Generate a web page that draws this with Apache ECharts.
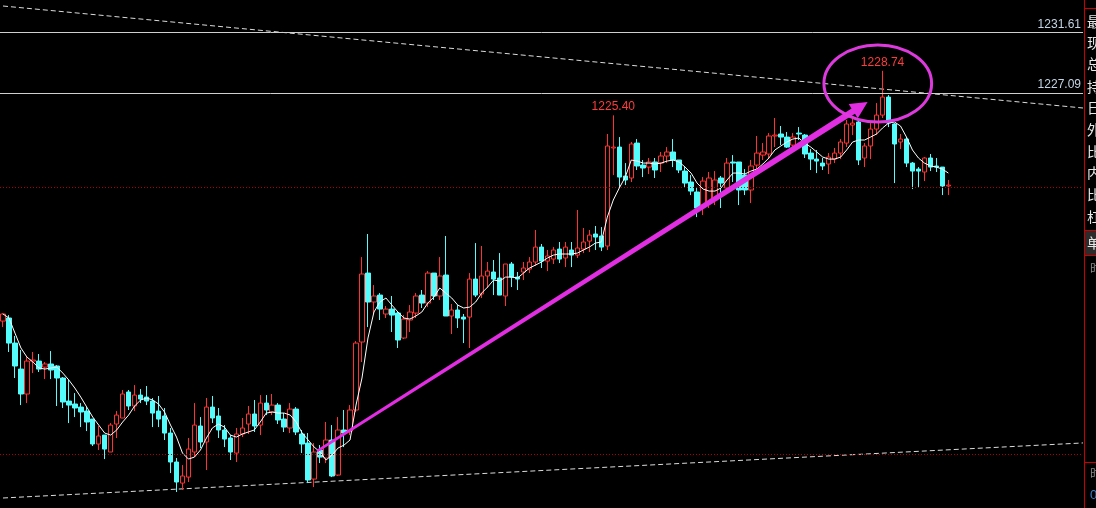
<!DOCTYPE html>
<html>
<head>
<meta charset="utf-8">
<script src="https://cdn.jsdelivr.net/npm/echarts@6/dist/echarts.min.js"></script>
<style>
html,body{margin:0;padding:0;background:#000;}
#main{width:1096px;height:508px;}
</style>
</head>
<body>
<div id="main"></div>
<script>
// ---- data (price units) ----
const opens = [
1209.97,1210.20,1208.32,1206.37,1204.50,1206.97,1206.97,1206.52,1206.75,1206.60,
1205.70,1203.97,1203.75,1203.52,1203.22,1202.62,1200.75,1201.42,1200.15,1202.25,
1202.70,1204.65,1203.60,1204.42,1204.27,1203.97,1203.22,1202.85,1201.57,1199.40,
1197.82,1198.27,1200.15,1202.10,1200.90,1203.52,1202.85,1201.80,1201.20,1200.07,
1201.50,1202.25,1203.00,1202.17,1203.82,1203.15,1203.67,1202.62,1201.95,1203.37,
1201.50,1200.82,1198.12,1200.30,1199.70,1201.05,1198.42,1201.80,1201.72,1203.30,
1208.40,1213.57,1211.40,1211.92,1210.50,1210.87,1210.57,1208.70,1210.05,1210.57,
1211.92,1211.32,1213.57,1211.85,1213.42,1210.35,1210.80,1210.27,1210.27,1213.12,
1212.00,1213.35,1213.65,1213.20,1211.85,1214.25,1213.27,1213.65,1213.87,1214.40,
1215.52,1214.47,1214.62,1215.37,1214.70,1215.30,1214.92,1215.37,1215.97,1216.50,
1216.35,1215.60,1222.95,1223.02,1220.85,1220.70,1223.32,1221.67,1221.52,1221.90,
1221.82,1222.35,1222.65,1222.05,1221.22,1220.40,1219.65,1218.52,1218.82,1219.05,
1220.70,1219.95,1221.90,1221.90,1220.92,1219.80,1221.67,1222.42,1222.50,1223.85,
1224.00,1223.77,1223.17,1224.07,1223.92,1222.57,1222.12,1221.82,1221.75,1222.12,
1222.57,1223.32,1224.67,1224.90,1222.20,1223.10,1224.37,1225.42,1226.77,1224.75,
1223.40,1223.62,1221.82,1221.37,1221.15,1222.20,1221.60,1221.52,1220.10
];
const closes = [
1210.50,1208.32,1206.60,1204.50,1206.97,1207.05,1206.37,1206.75,1206.30,1205.70,
1203.90,1203.67,1203.45,1203.15,1202.40,1200.75,1201.35,1200.37,1202.17,1202.92,
1204.50,1203.60,1204.42,1204.12,1203.97,1203.07,1202.62,1201.57,1199.40,1197.90,
1198.35,1200.37,1202.17,1200.90,1203.52,1202.70,1201.80,1201.12,1200.15,1201.50,
1201.95,1203.00,1202.10,1203.82,1203.30,1203.67,1202.55,1202.02,1203.37,1201.65,
1200.75,1198.05,1200.15,1199.77,1201.05,1198.35,1201.80,1201.57,1203.30,1208.32,
1213.50,1211.40,1211.85,1210.87,1210.87,1210.42,1208.55,1210.12,1210.65,1211.85,
1211.32,1213.57,1211.85,1213.35,1210.35,1210.80,1210.20,1210.12,1213.12,1211.92,
1213.35,1213.72,1213.12,1211.92,1214.25,1213.27,1213.12,1213.95,1214.40,1215.52,
1214.47,1214.85,1215.30,1214.62,1215.52,1214.92,1215.45,1215.90,1216.42,1216.27,
1215.52,1223.10,1223.02,1220.77,1220.55,1223.25,1221.60,1221.45,1221.90,1221.30,
1222.35,1222.65,1222.05,1221.30,1220.32,1219.72,1218.45,1220.47,1220.70,1220.55,
1220.32,1221.82,1221.82,1219.80,1219.80,1221.60,1222.57,1222.65,1223.85,1223.92,
1223.77,1223.02,1223.77,1224.00,1222.50,1222.12,1221.97,1221.60,1222.27,1222.57,
1223.40,1224.75,1224.82,1222.05,1223.10,1224.37,1225.42,1226.77,1224.82,1223.25,
1223.62,1221.82,1221.22,1221.22,1222.20,1221.52,1221.52,1220.10,1220.17
];
const lows = [
1209.52,1207.65,1205.70,1203.67,1203.82,1206.07,1206.15,1205.62,1205.62,1203.60,
1203.45,1202.32,1202.77,1202.02,1201.72,1200.60,1200.30,1199.62,1200.15,1201.20,
1202.70,1203.30,1203.22,1203.82,1203.67,1202.02,1202.02,1201.05,1198.57,1197.15,
1197.30,1197.90,1199.77,1200.45,1198.80,1202.32,1201.20,1200.52,1199.55,1199.40,
1201.27,1201.50,1201.65,1201.42,1202.92,1202.92,1202.25,1201.65,1201.57,1201.42,
1200.07,1197.82,1197.52,1199.32,1199.32,1198.27,1198.35,1200.52,1201.42,1203.15,
1206.90,1209.52,1210.50,1210.05,1210.20,1209.15,1207.95,1208.62,1209.15,1210.20,
1210.95,1211.02,1211.55,1211.55,1210.35,1209.00,1209.45,1208.32,1207.95,1211.77,
1211.70,1212.45,1211.92,1211.92,1211.10,1212.52,1212.30,1213.05,1213.57,1214.10,
1213.95,1213.72,1214.25,1214.32,1214.02,1214.02,1214.70,1215.07,1215.15,1215.30,
1215.22,1215.30,1220.92,1220.02,1220.17,1220.40,1221.30,1220.77,1221.00,1220.70,
1221.15,1221.82,1221.52,1221.07,1220.02,1219.42,1217.77,1217.92,1218.45,1218.67,
1218.45,1219.80,1220.40,1218.67,1219.42,1218.82,1221.15,1222.05,1222.12,1223.02,
1223.17,1222.95,1222.95,1223.55,1222.20,1221.30,1221.07,1221.30,1221.00,1221.82,
1222.12,1223.02,1223.92,1221.67,1221.52,1222.12,1223.92,1225.20,1224.52,1220.32,
1222.87,1221.52,1219.87,1219.95,1220.47,1221.22,1221.15,1219.42,1219.42
];
const highs = [
1210.57,1210.42,1208.85,1207.80,1207.27,1207.65,1207.50,1206.90,1207.72,1206.67,
1205.77,1205.55,1204.57,1203.82,1203.52,1202.62,1202.10,1201.42,1202.32,1203.22,
1204.80,1204.80,1205.17,1204.87,1205.10,1204.20,1204.35,1203.45,1201.95,1199.70,
1199.17,1201.20,1203.82,1202.77,1204.20,1204.35,1203.45,1202.17,1201.42,1201.95,
1202.70,1203.60,1204.05,1204.42,1204.42,1204.50,1203.82,1203.07,1203.82,1203.52,
1201.80,1201.57,1200.82,1200.67,1202.40,1202.17,1202.77,1203.30,1203.67,1208.47,
1214.77,1216.50,1212.67,1212.07,1211.10,1211.85,1210.65,1210.42,1211.17,1212.07,
1212.30,1213.72,1213.57,1214.77,1216.35,1211.25,1211.17,1210.50,1213.57,1215.82,
1215.60,1214.40,1214.55,1215.07,1214.25,1214.40,1213.65,1214.40,1214.77,1216.80,
1215.75,1215.30,1215.52,1215.90,1215.90,1215.90,1218.30,1216.95,1216.80,1217.10,
1217.02,1224.00,1225.40,1223.77,1221.82,1223.40,1223.62,1222.05,1222.20,1222.20,
1222.65,1223.02,1223.62,1222.05,1221.52,1220.92,1219.95,1220.77,1221.15,1221.22,
1220.85,1222.20,1222.42,1221.90,1221.37,1222.05,1223.85,1223.32,1224.07,1225.20,
1224.60,1224.15,1224.07,1224.52,1224.00,1222.87,1222.80,1222.20,1222.57,1222.95,
1223.62,1225.05,1225.20,1224.97,1223.32,1224.82,1226.32,1228.74,1226.92,1224.82,
1224.00,1223.77,1221.90,1221.52,1222.27,1222.50,1222.20,1221.52,1220.55
];
const maLine = [
1210.50,1210.20,1209.07,1207.95,1207.27,1206.90,1206.45,1206.37,1206.45,1206.52,
1206.07,1205.55,1204.95,1204.27,1203.52,1202.77,1202.17,1201.57,1201.42,1201.80,
1202.40,1202.92,1203.60,1204.05,1204.20,1204.05,1203.75,1203.15,1202.17,1201.27,
1200.07,1199.62,1199.77,1200.30,1201.20,1201.95,1202.25,1202.02,1201.42,1201.27,
1201.50,1201.65,1201.80,1202.40,1203.07,1203.15,1203.07,1203.07,1202.92,1202.40,
1201.57,1201.05,1200.52,1200.15,1199.55,1199.92,1200.45,1200.67,1201.05,1203.67,
1205.70,1208.70,1210.65,1211.40,1211.70,1211.17,1210.65,1210.20,1210.12,1210.35,
1210.65,1211.32,1211.77,1212.45,1212.07,1211.70,1211.17,1210.95,1211.02,1211.40,
1212.07,1212.52,1213.05,1212.97,1213.27,1213.27,1213.20,1213.57,1213.95,1214.17,
1214.40,1214.70,1214.92,1215.00,1215.00,1215.00,1215.07,1215.30,1215.52,1215.82,
1215.90,1217.77,1219.05,1219.95,1220.77,1222.05,1221.97,1221.82,1221.82,1221.75,
1221.82,1221.97,1222.05,1221.90,1221.52,1221.07,1220.32,1219.87,1219.72,1219.72,
1219.95,1220.55,1221.07,1221.07,1221.00,1221.22,1221.37,1221.75,1222.20,1222.80,
1223.10,1223.40,1223.62,1223.70,1223.32,1223.02,1222.65,1222.27,1222.12,1222.12,
1222.27,1222.80,1223.40,1223.55,1223.55,1223.77,1224.00,1224.45,1224.82,1224.90,
1224.60,1223.77,1222.80,1222.20,1221.82,1221.60,1221.52,1221.37,1221.07
];
const levelLines = [1231.61, 1227.09];
const gridLevels = [1220, 1200];
const peakIdx = [102, 147];
const upperTrend = [[0, 1233.60], [180.5, 1225.95]];
const lowerTrend = [[0, 1196.70], [180.5, 1200.83]];
const arrowFrom = [52.5, 1200.22];
const arrowTo = [144.5, 1226.40];
const ellipseBox = { left: 137.2, right: 155.2, top: 1230.67, bottom: 1224.90 };
const slotCount = 181;
const categories = Array.from({ length: slotCount }, (_, i) => String(i));
const panelChars = [['最',22],['现',43],['总',64],['持',87],['日',108],['外',130],['比',152],['内',173],['比',195],['杠',217],['单',243]];

const candleData = opens.map((o, i) => [o, closes[i], lows[i], highs[i]]);

const chart = echarts.init(document.getElementById('main'), null, { renderer: 'canvas' });
const numFont = 'Liberation Sans, Arial, sans-serif';

const markLineData = levelLines.map(v => ({
  yAxis: v,
  lineStyle: { color: '#cfcfcf', type: 'solid', width: 1 },
  label: { show: true, position: 'insideEndTop', distance: [2, 2], color: '#c4d4e4', fontSize: 12, fontFamily: numFont,
           formatter: p => Number(p.value).toFixed(2) }
})).concat(gridLevels.map(v => ({
  yAxis: v,
  lineStyle: { color: '#b00000', type: [1, 2], width: 1 },
  label: { show: false }
})));

chart.setOption({
  backgroundColor: '#000',
  animation: false,
  grid: { left: -3, width: 1086, top: 0, height: 508, containLabel: false },
  xAxis: [
    { type: 'category', data: categories, boundaryGap: true, show: false },
    { type: 'value', min: -0.5, max: 180.5, show: false }
  ],
  yAxis: { type: 'value', min: 1195.95, max: 1234.05, show: false, splitLine: { show: false } },
  series: [
    {
      type: 'line', xAxisIndex: 1, data: upperTrend, symbol: 'none', silent: true,
      lineStyle: { color: '#dcdcdc', width: 1, type: [5, 3] }, z: 1
    },
    {
      type: 'line', xAxisIndex: 1, data: lowerTrend, symbol: 'none', silent: true,
      lineStyle: { color: '#dcdcdc', width: 1, type: [5, 3] }, z: 1
    },
    {
      type: 'candlestick', data: candleData, barWidth: 5, z: 3,
      itemStyle: { color: '#000', color0: '#54fcfc', borderColor: '#ff3232', borderColor0: '#54fcfc', borderWidth: 1 },
      markPoint: {
        symbol: 'circle', symbolSize: 1, itemStyle: { color: 'transparent' },
        data: peakIdx.map(i => ({ coord: [String(i), highs[i]], value: highs[i] })),
        label: { show: true, position: 'top', distance: 2, color: '#ff3c3c', fontSize: 12, fontFamily: numFont,
                 formatter: p => Number(p.value).toFixed(2) }
      }
    },
    {
      type: 'line', data: maLine, symbol: 'none', silent: true, z: 4,
      lineStyle: { color: '#ffffff', width: 1 },
      markLine: { symbol: 'none', silent: true, data: markLineData }
    }
  ]
});

// ---- annotations (converted from data space) ----
const toPx = d => chart.convertToPixel({ xAxisIndex: 1, yAxisIndex: 0 }, d);
const S = toPx(arrowFrom), T = toPx(arrowTo);
const dx = T[0] - S[0], dy = T[1] - S[1], len = Math.hypot(dx, dy);
const ux = dx / len, uy = dy / len, nx = -uy, ny = ux;
const headLen = 17, headHalf = 8.5, w0 = 1.3, w1 = 3.2;
const B = [T[0] - ux * headLen, T[1] - uy * headLen];
const arrowPts = [
  [S[0] + nx * w0, S[1] + ny * w0],
  [B[0] + nx * w1, B[1] + ny * w1],
  [B[0] + nx * headHalf, B[1] + ny * headHalf],
  [T[0], T[1]],
  [B[0] - nx * headHalf, B[1] - ny * headHalf],
  [B[0] - nx * w1, B[1] - ny * w1],
  [S[0] - nx * w0, S[1] - ny * w0]
];
const eTL = toPx([ellipseBox.left, ellipseBox.top]);
const eBR = toPx([ellipseBox.right, ellipseBox.bottom]);

const graphics = [
  { type: 'polygon', z: 100, shape: { points: arrowPts }, style: { fill: '#e22ee2' }, silent: true },
  { type: 'ellipse', z: 100, shape: { cx: (eTL[0] + eBR[0]) / 2, cy: (eTL[1] + eBR[1]) / 2, rx: (eBR[0] - eTL[0]) / 2, ry: (eBR[1] - eTL[1]) / 2 },
    style: { fill: 'none', stroke: '#dc3adc', lineWidth: 3 }, silent: true },
  // right side panel
  { type: 'rect', z: 50, shape: { x: 1085, y: 0, width: 11, height: 508 }, style: { fill: '#000' } },
  { type: 'rect', z: 51, shape: { x: 1085, y: 231, width: 11, height: 24 }, style: { fill: '#2c2c2c' } },
  { type: 'line', z: 52, shape: { x1: 1084.5, y1: 0, x2: 1084.5, y2: 508 }, style: { stroke: '#c80000', lineWidth: 1 } },
  { type: 'line', z: 52, shape: { x1: 1084, y1: 8.5, x2: 1096, y2: 8.5 }, style: { stroke: '#c80000', lineWidth: 1 } },
  { type: 'line', z: 52, shape: { x1: 1084, y1: 230.5, x2: 1096, y2: 230.5 }, style: { stroke: '#c80000', lineWidth: 1 } },
  { type: 'line', z: 52, shape: { x1: 1084, y1: 255.5, x2: 1096, y2: 255.5 }, style: { stroke: '#c80000', lineWidth: 1 } },
  { type: 'line', z: 52, shape: { x1: 1084, y1: 462.5, x2: 1096, y2: 462.5 }, style: { stroke: '#c80000', lineWidth: 1 } },
  { type: 'text', z: 53, x: 1090, y: 268, style: { text: '时', fill: '#8a8a8a', font: '12px "Noto Sans CJK SC"', verticalAlign: 'middle' } },
  { type: 'text', z: 53, x: 1090, y: 473, style: { text: '时', fill: '#8a8a8a', font: '12px "Noto Sans CJK SC"', verticalAlign: 'middle' } },
  { type: 'text', z: 53, x: 1090, y: 495, style: { text: '0', fill: '#3c7cc8', font: '13px ' + numFont, verticalAlign: 'middle' } }
].concat(panelChars.map(([c, y]) => ({
  type: 'text', z: 53, x: 1087, y: y,
  style: { text: c, fill: '#e8e8e8', font: '14px "Noto Sans CJK SC"', verticalAlign: 'middle' }
})));

chart.setOption({ graphic: graphics });
</script>
</body>
</html>
